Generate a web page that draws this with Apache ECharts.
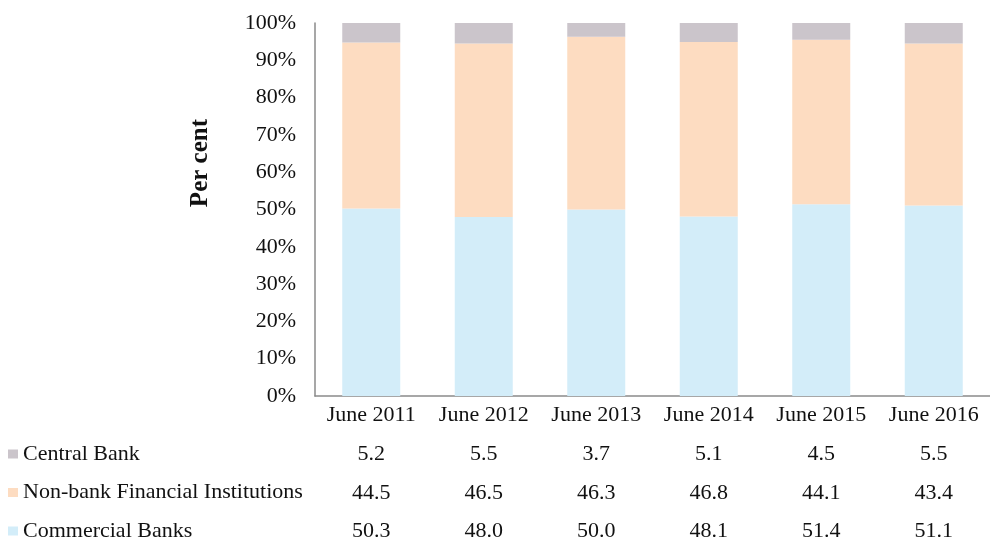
<!DOCTYPE html>
<html>
<head>
<meta charset="utf-8">
<script src="https://cdn.jsdelivr.net/npm/echarts@6/dist/echarts.min.js"></script>
<style>
  html, body { margin: 0; padding: 0; background: #fff; }
  #chart { width: 990px; height: 542px; }
</style>
</head>
<body>
<div id="chart"></div>
<script>
// data
var categories = ['June 2011', 'June 2012', 'June 2013', 'June 2014', 'June 2015', 'June 2016']
var centralBank = [5.2, 5.5, 3.7, 5.1, 4.5, 5.5]
var nonBank = [44.5, 46.5, 46.3, 46.8, 44.1, 43.4]
var commercialBanks = [50.3, 48.0, 50.0, 48.1, 51.4, 51.1]
var yTicks = [0, 10, 20, 30, 40, 50, 60, 70, 80, 90, 100]

var font = 'Liberation Serif'
var colors = {
  central: '#cbc5cb',
  nonBank: '#fddcc1',
  commercial: '#d3edf9'
}

// one hidden axis per table row, the labels come from the series arrays
function tableRow(values, offset) {
  return {
    type: 'category',
    gridIndex: 0,
    position: 'bottom',
    offset: offset,
    data: categories,
    axisLine: { show: false },
    axisTick: { show: false },
    axisLabel: {
      margin: 8,
      interval: 0,
      fontFamily: font,
      fontSize: 22,
      color: '#111',
      formatter: function (v, i) {
        return values[i].toFixed(1)
      }
    }
  }
}

var chart = echarts.init(document.getElementById('chart'))
chart.setOption({
  animation: false,
  grid: { left: 315, top: 23, width: 685, bottom: 145 },
  legend: {
    orient: 'vertical',
    left: 8,
    top: 443,
    padding: 0,
    itemWidth: 10,
    itemHeight: 9,
    itemGap: 16.5,
    itemTextGap: 7,
    icon: 'rect',
    data: ['Central Bank', 'Non-bank Financial Institutions', 'Commercial Banks'],
    textStyle: { fontFamily: font, fontSize: 22, color: '#111', lineHeight: 22 }
  },
  graphic: [{
    type: 'text',
    left: 188,
    top: 119,
    rotation: Math.PI / 2,
    style: {
      text: 'Per cent',
      fontFamily: font,
      fontWeight: 'bold',
      fontSize: 25,
      fill: '#111'
    }
  }],
  xAxis: [{
    type: 'category',
    data: categories,
    axisLine: { lineStyle: { color: '#8a8a8a', width: 1.5 } },
    axisTick: { show: false },
    axisLabel: { margin: 8, interval: 0, fontFamily: font, fontSize: 22, color: '#111' }
  },
    tableRow(centralBank, 39),
    tableRow(nonBank, 78),
    tableRow(commercialBanks, 116)
  ],
  yAxis: {
    type: 'value',
    min: yTicks[0],
    max: yTicks[yTicks.length - 1],
    interval: yTicks[1] - yTicks[0],
    axisLine: { show: true, lineStyle: { color: '#8a8a8a', width: 1.5 } },
    axisTick: { show: false },
    splitLine: { show: false },
    axisLabel: { margin: 19, fontFamily: font, fontSize: 22, color: '#111', formatter: '{value}%' }
  },
  series: [{
    name: 'Commercial Banks',
    type: 'bar',
    stack: 'total',
    barWidth: 58,
    itemStyle: { color: colors.commercial },
    data: commercialBanks
  }, {
    name: 'Non-bank Financial Institutions',
    type: 'bar',
    stack: 'total',
    barWidth: 58,
    itemStyle: { color: colors.nonBank },
    data: nonBank
  }, {
    name: 'Central Bank',
    type: 'bar',
    stack: 'total',
    barWidth: 58,
    itemStyle: { color: colors.central },
    data: centralBank
  }]
})
</script>
</body>
</html>
